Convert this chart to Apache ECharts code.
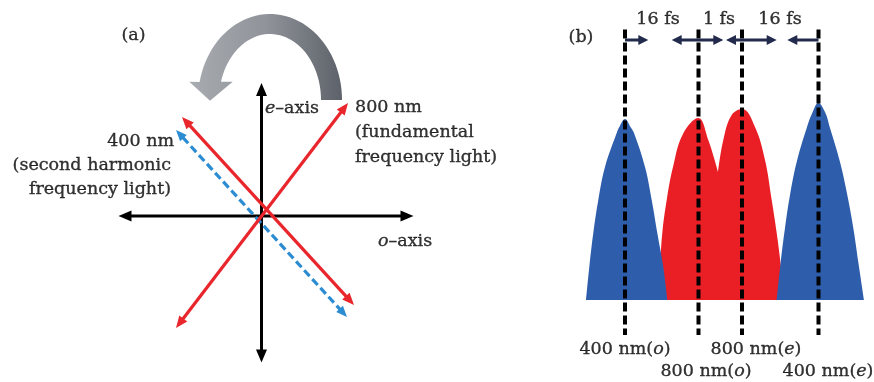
<!DOCTYPE html>
<html>
<head>
<meta charset="utf-8">
<script src="https://cdn.jsdelivr.net/npm/echarts@6/dist/echarts.min.js"></script>
<style>
  html, body { margin: 0; padding: 0; background: #fff; }
  #main { width: 874px; height: 382px; }
</style>
</head>
<body>
<div id="main"></div>
<script>
// ---------- (a) polarization geometry, field units, o/e axes cross at the origin ----------
const crystalAxes = [
  { from: [-14.3, 0], to: [15.2, 0], heads: 'both' },   // o-axis
  { from: [0, -14.65], to: [0, 13.3], heads: 'both' }   // e-axis
];
const fundamentalBeams = [                               // 800 nm
  { from: [-8.55, -11.2], to: [8.65, 11.3], heads: 'both' },
  { from: [-7.95, 9.9], to: [9.25, -8.9], heads: 'both' }
];
const harmonicBeams = [                                  // 400 nm
  { from: [-8.55, 8.6], to: [8.55, -10.1], heads: 'both' }
];
// half-wave-plate rotation arrow: elliptical band, outer / inner radii and end angles
const rotationArc = { center: [0.85, 11.6], outer: [7.2, 8.6], inner: [5.1, 6.6], outerEnd: 168, innerEnd: 164 };
const rotationHead = [[-7.22, 13.43], [-5.15, 11.53], [-2.88, 13.43]];

const axisNames = ['{i|e}–axis', '{i|o}–axis'];
const beam800Text = ['800 nm', '(fundamental', 'frequency light)'];
const beam400Text = ['400 nm', '(second harmonic', 'frequency light)'];

// ---------- (b) pulse sequence: time (arb. units) vs intensity (arb. units) ----------
const pulseCentres = [65, 138.5, 182, 258.5];
const pulseNames = ['400 nm({i|o})', '800 nm({i|o})', '800 nm({i|e})', '400 nm({i|e})'];
const delayNames = ['16 fs', '1 fs', '16 fs'];

const pulse400o = [[26, 0], [29.3, 0.33], [33.3, 0.67], [38.3, 1.0], [45, 1.33], [56.7, 1.67], [59.3, 1.73],
  [65, 1.81], [70.5, 1.73], [74, 1.67], [85, 1.33], [91.7, 1.0], [97.3, 0.67], [103.3, 0.33], [107.3, 0]];
const pulse800o = [[98, 0], [100, 0.33], [102.3, 0.67], [106.7, 1.0], [113, 1.33], [123, 1.66],
  [138.3, 1.82], [148.3, 1.6], [158, 1.28]];
const pulse800e = [[158, 1.28], [163.3, 1.6], [171.7, 1.85], [182.3, 1.91], [195, 1.73], [205, 1.4],
  [211.7, 1.0], [216.7, 0.67], [221, 0.33], [224.3, 0]];
const pulse400e = [[216.7, 0], [220.7, 0.38], [225, 0.72], [230, 1.05], [236.7, 1.38], [246.7, 1.72], [252.7, 1.88],
  [258.3, 1.97], [265, 1.88], [270, 1.72], [280, 1.38], [287.3, 1.05], [293.3, 0.72], [298.3, 0.38], [304, 0]];

// ---------- drawing helpers ----------
const SERIF = '"DejaVu Serif", serif';
const INK = '#000000';
const FONT_SIZE = 17.5;

function arrowSeries(gridIdx, items, st) {
  return {
    type: 'custom', coordinateSystem: 'cartesian2d',
    xAxisIndex: gridIdx, yAxisIndex: gridIdx, clip: false, silent: true, z: st.z || 3,
    data: items.map(d => [d.from[0], d.from[1], d.to[0], d.to[1]]),
    renderItem(params, api) {
      const d = items[params.dataIndex];
      const a = api.coord(d.from), b = api.coord(d.to);
      const dx = b[0] - a[0], dy = b[1] - a[1], L = Math.hypot(dx, dy);
      const ux = dx / L, uy = dy / L, nx = -uy, ny = ux;
      const hl = st.headLen || 0, hw = (st.headWidth || 0) / 2;
      const head = (tip, sx, sy) => {
        const bx = tip[0] - sx * hl, by = tip[1] - sy * hl;
        return { type: 'polygon', shape: { points: [tip, [bx + nx * hw, by + ny * hw], [bx - nx * hw, by - ny * hw]] },
                 style: { fill: st.color } };
      };
      const kids = [];
      let s = a, e = b;
      if (d.heads === 'both' || d.heads === 'start') {
        kids.push(head(a, -ux, -uy));
        s = [a[0] + ux * (hl - 1), a[1] + uy * (hl - 1)];
      }
      if (d.heads === 'both' || d.heads === 'end') {
        kids.push(head(b, ux, uy));
        e = [b[0] - ux * (hl - 1), b[1] - uy * (hl - 1)];
      }
      kids.unshift({ type: 'line', shape: { x1: s[0], y1: s[1], x2: e[0], y2: e[1] },
                     style: { stroke: st.color, lineWidth: st.width, lineDash: st.dash || null } });
      return { type: 'group', children: kids };
    }
  };
}

function textSeries(gridIdx, items) {
  const ink = { fontFamily: SERIF, fontSize: FONT_SIZE, color: INK, textBorderColor: INK, textBorderWidth: 0.35 };
  return {
    type: 'scatter', xAxisIndex: gridIdx, yAxisIndex: gridIdx, symbolSize: 0, silent: true, z: 10,
    data: items.map(t => ({
      value: t.at,
      label: Object.assign({
        show: true, position: 'inside', formatter: t.text, align: t.align || 'center', verticalAlign: 'middle',
        rich: { i: Object.assign({ fontStyle: 'italic' }, ink) }
      }, ink)
    }))
  };
}

function pulseSeries(points, color) {
  return {
    type: 'line', xAxisIndex: 1, yAxisIndex: 1, data: points, smooth: 0.4,
    showSymbol: false, silent: true, lineStyle: { width: 0, color }, itemStyle: { color },
    areaStyle: { color, opacity: 1 }
  };
}

const rotationSeries = {
  type: 'custom', coordinateSystem: 'cartesian2d', xAxisIndex: 0, yAxisIndex: 0, clip: false, silent: true,
  data: [rotationArc.center],
  renderItem(params, api) {
    const { center, outer, inner, outerEnd, innerEnd } = rotationArc;
    const N = 48, pts = [];
    for (let k = 0; k <= N; k++) {
      const t = outerEnd * k / N * Math.PI / 180;
      pts.push(api.coord([center[0] + outer[0] * Math.cos(t), center[1] + outer[1] * Math.sin(t)]));
    }
    rotationHead.forEach(p => pts.push(api.coord(p)));
    for (let k = N; k >= 0; k--) {
      const t = innerEnd * k / N * Math.PI / 180;
      pts.push(api.coord([center[0] + inner[0] * Math.cos(t), center[1] + inner[1] * Math.sin(t)]));
    }
    return {
      type: 'polygon', shape: { points: pts },
      style: { fill: new echarts.graphic.LinearGradient(0, 0, 1, 0, [
        { offset: 0, color: '#a8acb1' }, { offset: 0.5, color: '#90949a' }, { offset: 1, color: '#5d6169' }]) }
    };
  }
};

// ---------- (b) guides built from the pulse centres ----------
const markerTop = 2.705, markerBottom = -0.35, delayRow = 2.6;
const markerLines = pulseCentres.map(x => ({ from: [x, markerTop], to: [x, markerBottom], heads: 'none' }));
const delayArrows = [
  { from: [pulseCentres[0], delayRow], to: [88.3, delayRow], heads: 'end' },
  { from: [111.7, delayRow], to: [163.3, delayRow], heads: 'both' },
  { from: [166, delayRow], to: [216.7, delayRow], heads: 'both' },
  { from: [pulseCentres[3], delayRow], to: [227.3, delayRow], heads: 'end' }
];

const leftText = [
  { text: '(a)', at: [-12.8, 18.1] },
  { text: axisNames[0], at: [0.35, 10.8], align: 'left' },
  { text: axisNames[1], at: [11.65, -2.5], align: 'left' },
  { text: beam800Text[0], at: [9.35, 10.85], align: 'left' },
  { text: beam800Text[1], at: [9.35, 8.35], align: 'left' },
  { text: beam800Text[2], at: [9.35, 5.85], align: 'left' },
  { text: beam400Text[0], at: [-8.75, 7.45], align: 'right' },
  { text: beam400Text[1], at: [-9.05, 5.05], align: 'right' },
  { text: beam400Text[2], at: [-9.05, 2.7], align: 'right' }
];
const rightText = [
  { text: '(b)', at: [21, 2.63] },
  { text: delayNames[0], at: [98, 2.81] },
  { text: delayNames[1], at: [159, 2.81] },
  { text: delayNames[2], at: [220, 2.81] },
  { text: pulseNames[0], at: [65, -0.49] },
  { text: pulseNames[1], at: [146, -0.71] },
  { text: pulseNames[2], at: [196, -0.49] },
  { text: pulseNames[3], at: [268, -0.71] }
];

const chart = echarts.init(document.getElementById('main'), null, { renderer: 'canvas' });
chart.setOption({
  animation: false,
  backgroundColor: '#ffffff',
  grid: [
    { left: 0, top: 0, width: 460, height: 382 },
    { left: 560, top: 0, width: 314, height: 382 }
  ],
  xAxis: [
    { type: 'value', gridIndex: 0, min: -26.15, max: 19.85, show: false },
    { type: 'value', gridIndex: 1, min: 0, max: 314, show: false }
  ],
  yAxis: [
    { type: 'value', gridIndex: 0, min: -16.6, max: 21.6, show: false },
    { type: 'value', gridIndex: 1, min: -0.82, max: 3.0, show: false }
  ],
  series: [
    rotationSeries,
    arrowSeries(0, crystalAxes, { color: '#000000', width: 3, headLen: 13, headWidth: 11 }),
    arrowSeries(0, harmonicBeams, { color: '#2b8cd2', width: 3.2, headLen: 11, headWidth: 9, dash: [8, 4] }),
    arrowSeries(0, fundamentalBeams, { color: '#e8262c', width: 3.2, headLen: 12, headWidth: 10 }),
    textSeries(0, leftText),

    pulseSeries(pulse800o, '#ea1f26'),
    pulseSeries(pulse800e, '#ea1f26'),
    pulseSeries(pulse400o, '#2e5eab'),
    pulseSeries(pulse400e, '#2e5eab'),
    arrowSeries(1, markerLines, { color: '#000000', width: 4, dash: [9, 4], z: 5 }),
    arrowSeries(1, delayArrows, { color: '#232b4c', width: 3, headLen: 10, headWidth: 10, z: 5 }),
    textSeries(1, rightText)
  ]
});
</script>
</body>
</html>
